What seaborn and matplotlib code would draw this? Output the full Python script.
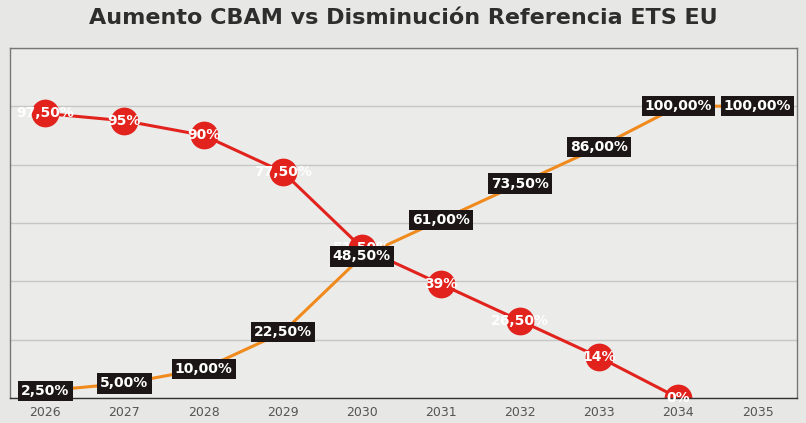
import numpy as np
import pandas as pd
import matplotlib
matplotlib.use("Agg")
import matplotlib.pyplot as plt
import seaborn as sns

# CBAM phase-in vs free allocation phase-out (EU ETS)
years = ["2026", "2027", "2028", "2029", "2030", "2031", "2032", "2033", "2034", "2035"]
cbam = [2.5, 5.0, 10.0, 22.5, 48.5, 61.0, 73.5, 86.0, 100.0, 100.0]
ets = [97.5, 95.0, 90.0, 77.5, 51.5, 39.0, 26.5, 14.0, 0.0, np.nan]

red = "#e2231d"
orange = "#f08a1c"
bg = "#e7e7e5"

sns.set_theme(style="white")
plt.rcParams["font.family"] = ["DejaVu Sans"]

df = pd.DataFrame({"idx": np.arange(len(years)), "year": years, "CBAM": cbam, "ETS": ets})

fig = plt.figure(figsize=(8.06, 4.23), dpi=100, facecolor=bg)
ax = fig.add_axes([0.012, 0.059, 0.977, 0.828])
ax.set_facecolor("#ebebea")

sns.lineplot(data=df.dropna(subset=["ETS"]), x="idx", y="ETS", color=red, lw=2.2,
             marker="o", markersize=20, markeredgewidth=0, ax=ax, zorder=2)
sns.lineplot(data=df, x="idx", y="CBAM", color=orange, lw=2.2,
             marker="o", markersize=10, markeredgewidth=0, ax=ax, zorder=3)


def fmt(v, always_dec):
    if not always_dec and float(v).is_integer():
        return "%d%%" % v
    return ("%.2f%%" % v).replace(".", ",")


for i, v in enumerate(ets):
    if np.isnan(v):
        continue
    ax.text(i, v, fmt(v, False), color="white", fontsize=10, fontweight="bold",
            ha="center", va="center", zorder=4)

for i, v in enumerate(cbam):
    ax.text(i, v, fmt(v, True), color="white", fontsize=10, fontweight="bold",
            ha="center", va="center", zorder=5,
            bbox=dict(boxstyle="square,pad=0.22", fc="#1c1616", ec="none"))

ax.set_xlim(-0.45, 9.5)
ax.set_ylim(0, 120)
ax.set_yticks([0, 20, 40, 60, 80, 100, 120])
ax.set_yticklabels([])
ax.yaxis.grid(True, color="#c6c6c4", lw=1)
ax.set_axisbelow(True)
ax.set_xticks(range(len(years)))
ax.set_xticklabels(years, color="#555555", fontsize=9)
ax.tick_params(axis="both", length=0, pad=6)
ax.set_xlabel("")
ax.set_ylabel("")
for s in ax.spines.values():
    s.set_color("#777777")
    s.set_linewidth(1)
ax.spines["bottom"].set_color("#333333")

fig.text(0.5, 0.958, "Aumento CBAM vs Disminución Referencia ETS EU", ha="center", va="center",
         fontsize=16, fontweight="bold", color="#2e2e2e")

plt.savefig("out.png", dpi=100, facecolor=bg)
